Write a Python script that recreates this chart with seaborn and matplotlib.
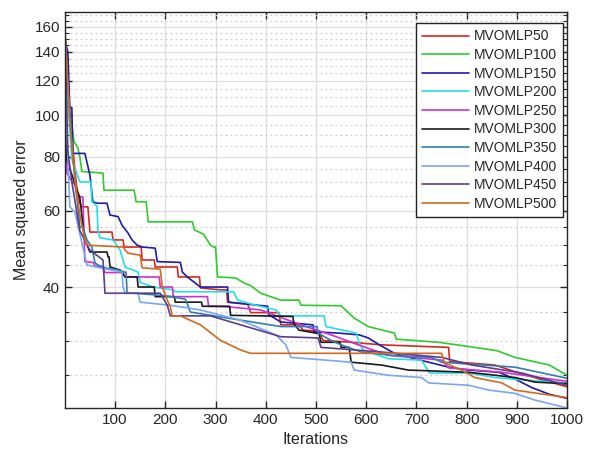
import numpy as np
import pandas as pd
import matplotlib
matplotlib.use('Agg')
import matplotlib.pyplot as plt
import seaborn as sns
from matplotlib.ticker import FixedLocator, FixedFormatter, NullFormatter

# данные (итерация, MSE) - вершины ломаных
it_50 = [0, 10, 20, 26, 30, 34, 46, 50, 94, 96, 116, 118, 152, 154, 178, 180, 224, 226, 268, 270, 310, 322, 324, 364, 370, 426, 430, 466, 474, 506, 514, 570, 630, 764, 766, 856, 904, 950, 1000]
mse_50 = [157, 102, 74.6, 64.6, 62.6, 61.3, 61.3, 53.6, 53.6, 51.4, 51.4, 49.5, 49.5, 46.2, 46.2, 44.5, 44.5, 42.2, 42.2, 39.8, 39.4, 39.4, 36.9, 36.5, 34.9, 34.9, 32.7, 32.7, 31.8, 31.6, 30.1, 29.8, 29.4, 29.0, 26.9, 26.4, 25.3, 24.4, 23.5]

it_100 = [0, 2, 4, 8, 14, 18, 26, 30, 34, 76, 78, 138, 142, 162, 166, 254, 258, 276, 290, 296, 300, 304, 340, 356, 370, 390, 430, 466, 470, 550, 576, 604, 656, 660, 744, 816, 860, 896, 964, 1000]
mse_100 = [160, 140, 120, 100, 95, 87, 84, 80, 74, 73.4, 67, 67, 63, 63, 56.6, 56.6, 54.2, 53, 50, 49.5, 49.5, 42.2, 42, 40.9, 40.3, 38.7, 37.3, 37.3, 36.3, 36.2, 33.9, 32.4, 31.3, 30.3, 29.8, 29.0, 28.5, 27.5, 26.4, 25.0]

it_150 = [0, 6, 10, 14, 16, 40, 50, 56, 66, 84, 90, 106, 114, 126, 134, 144, 154, 180, 184, 230, 234, 244, 270, 324, 326, 404, 406, 430, 494, 496, 544, 586, 604, 626, 656, 696, 730, 764, 804, 864, 896, 930, 964, 1000]
mse_150 = [150, 140, 104, 104, 81.5, 81.5, 72.6, 62.9, 62.5, 62.5, 58.7, 58.2, 55.6, 53.3, 51.4, 50, 49.5, 49.2, 45.8, 45.6, 43.3, 42.2, 40, 40, 36.9, 36.1, 34.5, 33.2, 32.7, 31.5, 31.3, 31.0, 30.5, 29.4, 28.1, 27.3, 26.7, 26.1, 25.7, 25.4, 24.5, 23.4, 22.6, 22.1]

it_200 = [0, 6, 14, 30, 52, 54, 64, 66, 70, 96, 110, 120, 146, 150, 176, 216, 220, 336, 344, 380, 420, 430, 516, 520, 580, 586, 594, 644, 710, 726, 804, 856, 910, 1000]
mse_200 = [150, 108, 79, 70, 70, 63, 61.5, 54, 52, 51.4, 48.7, 44.5, 43.3, 41, 40, 39.4, 39, 39, 37.3, 36.3, 35.4, 34.3, 34.3, 32.4, 31.3, 29.7, 28.6, 27.3, 27.1, 25.3, 25.3, 24.7, 24.4, 24.0]

it_250 = [0, 4, 14, 20, 24, 36, 40, 56, 60, 76, 80, 116, 120, 188, 190, 214, 216, 284, 286, 324, 390, 470, 530, 584, 644, 750, 764, 870, 1000]
mse_250 = [150, 73.4, 70.4, 69, 65, 64.6, 45.8, 45.6, 44.8, 44.5, 43.2, 43.2, 42.2, 42.2, 40, 40, 38, 38, 36.1, 36, 35.4, 32.7, 31.0, 29.4, 27.8, 27.1, 26.0, 25.4, 24.2]

it_300 = [0, 4, 30, 36, 40, 50, 84, 86, 88, 90, 110, 120, 144, 146, 178, 180, 218, 220, 272, 274, 328, 330, 454, 456, 466, 506, 510, 548, 550, 566, 570, 630, 684, 804, 896, 936, 1000]
mse_300 = [160, 78.7, 64.3, 55.7, 51.4, 48.2, 48.2, 47, 47, 44.5, 43.8, 42.2, 42.2, 40, 40, 38, 38, 36.9, 36.9, 36.1, 36.1, 34.4, 34.2, 32.9, 31.8, 31.2, 29.8, 29.8, 29.0, 29.0, 26.8, 26.4, 25.7, 25.4, 24.7, 24.1, 23.9]

it_350 = [0, 16, 30, 36, 44, 54, 60, 66, 76, 84, 106, 120, 122, 124, 136, 200, 240, 250, 430, 502, 504, 530, 550, 590, 650, 730, 750, 896, 1000]
mse_350 = [150, 80, 55, 55, 51.4, 49.5, 45.5, 45, 44.5, 44.2, 43.8, 43.3, 43.3, 38.7, 38.7, 38.2, 37.5, 35, 32.4, 32.4, 31.3, 30.1, 29.4, 28.3, 27.8, 27.5, 26.8, 26.1, 24.6]

it_400 = [0, 4, 10, 20, 44, 70, 114, 116, 120, 146, 150, 210, 270, 350, 420, 440, 450, 570, 576, 644, 710, 724, 804, 844, 896, 936, 1000]
mse_400 = [150, 92, 61.3, 59.7, 45, 44.3, 43.3, 40, 38.7, 38.7, 36.9, 36.3, 35.4, 33.5, 31.0, 29.4, 27.5, 26.8, 25.7, 25.0, 24.7, 24.0, 23.7, 23.1, 22.7, 21.9, 21.0]

it_450 = [0, 6, 14, 30, 50, 76, 80, 190, 204, 210, 290, 350, 430, 504, 510, 630, 750, 810, 910, 1000]
mse_450 = [157, 83, 70, 54, 48.7, 46.2, 38.7, 38.7, 36.3, 34.3, 34.3, 32.7, 30.7, 30.5, 29.0, 28.3, 27.5, 26.4, 25.3, 23.7]

it_500 = [0, 10, 20, 30, 40, 44, 116, 120, 126, 150, 154, 190, 194, 204, 210, 214, 230, 270, 310, 350, 370, 750, 756, 790, 816, 870, 896, 964, 1000]
mse_500 = [160, 97, 71, 58.7, 51.4, 50, 49.5, 48.7, 47.9, 47.4, 44.3, 44, 40, 37.3, 36, 34.3, 34.3, 32.7, 30.1, 28.6, 28.1, 28.1, 26.7, 25.7, 24.7, 24.0, 23.1, 22.5, 22.2]

labels = ['MVOMLP50', 'MVOMLP100', 'MVOMLP150', 'MVOMLP200', 'MVOMLP250',
          'MVOMLP300', 'MVOMLP350', 'MVOMLP400', 'MVOMLP450', 'MVOMLP500']
iters = [it_50, it_100, it_150, it_200, it_250, it_300, it_350, it_400, it_450, it_500]
mses = [mse_50, mse_100, mse_150, mse_200, mse_250, mse_300, mse_350, mse_400, mse_450, mse_500]
colors = ['#D42A1E', '#2DCB2D', '#1C1CA8', '#22E0E8', '#D12FD1',
          '#1A1A1A', '#2E7FB5', '#79A6F2', '#5B3F8C', '#D2691E']

y_major = [40, 60, 80, 100, 120, 140, 160]
y_minor = [25, 30, 35, 45, 50, 55, 65, 70, 75, 85, 90, 95, 105, 110, 115,
           125, 130, 135, 145, 150, 155, 165, 170]
x_ticks = [100, 200, 300, 400, 500, 600, 700, 800, 900, 1000]

rows = []
for lab, xs, ys in zip(labels, iters, mses):
    for i, (x, y) in enumerate(zip(xs, ys)):
        rows.append({'Iterations': x, 'MSE': y, 'Model': lab, 'order': i})
df = pd.DataFrame(rows)

sns.set_style('ticks')
plt.rcParams['font.family'] = ['Liberation Sans', 'DejaVu Sans']

fig = plt.figure(figsize=(5.89, 4.66), dpi=100)
ax = fig.add_axes([0.110, 0.1245, 0.853, 0.8495])

sns.lineplot(data=df, x='Iterations', y='MSE', hue='Model', hue_order=labels,
             palette=colors, estimator=None, sort=False, units='Model',
             linewidth=1.2, ax=ax, legend=False)

ax.set_yscale('log')
ax.set_xlim(0, 1000)
ax.set_ylim(21.0, 173)

ax.yaxis.set_major_locator(FixedLocator(y_major))
ax.yaxis.set_major_formatter(FixedFormatter([str(v) for v in y_major]))
ax.yaxis.set_minor_locator(FixedLocator(y_minor))
ax.yaxis.set_minor_formatter(NullFormatter())
ax.xaxis.set_major_locator(FixedLocator(x_ticks))

ax.grid(True, which='major', color='#DDDDDD', linewidth=0.9, linestyle='-')
ax.grid(True, which='minor', axis='y', color='#CCCCCC', linewidth=0.9, linestyle=(0, (1.5, 2.5)))
ax.set_axisbelow(True)

ax.tick_params(which='both', direction='in', top=True, right=True,
               labelsize=11, colors='#262626')
ax.tick_params(which='major', length=5, width=1)
ax.tick_params(which='minor', length=3, width=0.8)
for s in ax.spines.values():
    s.set_color('#262626')
    s.set_linewidth(1.0)

ax.set_xlabel('Iterations', fontsize=11.5, color='#262626', labelpad=4)
ax.set_ylabel('Mean squared error', fontsize=11.5, color='#262626', labelpad=4)

handles = [plt.Line2D([], [], color=c, linewidth=1.2) for c in colors]
leg = ax.legend(handles, labels, loc='upper right', bbox_to_anchor=(0.992, 0.972),
                borderaxespad=0, fontsize=10, frameon=True, fancybox=False,
                framealpha=1, edgecolor='#222222', handlelength=3.4,
                labelspacing=0.33, handletextpad=0.3, borderpad=0.45)
leg.get_frame().set_linewidth(1.0)

fig.savefig('out.png', dpi=100)
